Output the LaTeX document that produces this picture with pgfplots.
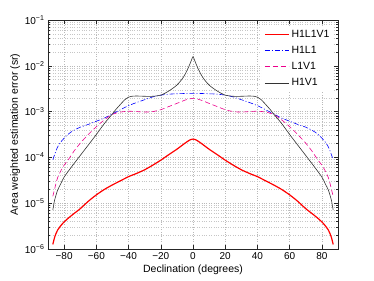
\documentclass[border=0pt]{standalone}
\usepackage{pgfplots}
\pgfplotsset{compat=1.18}
\usepackage{fontspec}
\setmainfont{Liberation Sans}
\begin{document}
\fontsize{10}{12}\selectfont
\begin{tikzpicture}
\begin{axis}[
  scale only axis, width=290pt, height=229pt,
  xmin=-90, xmax=90, ymode=log, ymin=1e-6, ymax=1e-1,
  xtick={-80,-60,-40,-20,0,20,40,60,80},
  xticklabels={−80,−60,−40,−20,0,20,40,60,80},
  ytick={1e-6,1e-5,1e-4,1e-3,1e-2,1e-1},
  yticklabels={10\textsuperscript{−6},10\textsuperscript{−5},10\textsuperscript{−4},10\textsuperscript{−3},10\textsuperscript{−2},10\textsuperscript{−1}},
  tick align=inside, xtick pos=both, ytick pos=both,
  major tick length=4pt, minor tick length=2pt,
  grid=both,
  major grid style={dash pattern=on 0.6pt off 1.8pt, gray!55, line width=0.4pt},
  minor grid style={dash pattern=on 0.6pt off 1.8pt, gray!45, line width=0.4pt},
  axis line style={line width=0.6pt, black!85},
  tick style={black!85, line width=0.5pt},
  ticklabel style={font=\fontsize{10}{12}\selectfont},
  label style={font=\fontsize{10.5}{12}\selectfont},
  xlabel={Declination (degrees)},
  ylabel={Area weighted estimation error (sr)},
  xlabel style={yshift=2pt},
  ylabel style={yshift=-2pt},
  legend style={at={(0.985,0.975)}, anchor=north east, draw=none, fill=white,
    font=\fontsize{10.5}{12}\selectfont, row sep=3.5pt, inner sep=2pt},
  legend cell align=left,
  legend image code/.code={\draw[#1] (0pt,0pt) -- (24pt,0pt);},
]
\addplot[color=red, draw=red, line width=1.2pt, smooth, tension=0.4] coordinates {
(-87,1.26e-6) (-86,1.74e-6) (-85,2.19e-6) (-84,2.60e-6) (-82,3.25e-6) (-80,3.90e-6)
(-77,4.85e-6) (-74,5.89e-6) (-70,7.59e-6) (-65,1.10e-5) (-60,1.52e-5) (-55,2.0e-5)
(-50,2.51e-5) (-45,3.09e-5) (-40,3.80e-5) (-35,4.47e-5) (-30,5.37e-5) (-25,6.76e-5)
(-20,8.71e-5) (-15,1.15e-4) (-10,1.51e-4) (-5,2.04e-4) (-2,2.40e-4) (0,2.51e-4)
(2,2.40e-4) (5,2.04e-4) (10,1.51e-4) (15,1.15e-4) (20,8.71e-5) (25,6.76e-5)
(30,5.37e-5) (35,4.47e-5) (40,3.80e-5) (45,3.09e-5) (50,2.51e-5) (55,2.0e-5)
(60,1.52e-5) (65,1.10e-5) (70,7.59e-6) (74,5.89e-6) (77,4.85e-6) (80,3.90e-6)
(82,3.25e-6) (84,2.60e-6) (85,2.19e-6) (86,1.74e-6) (87,1.26e-6)
};
\addlegendentry{H1L1V1}
\addplot[color=blue, draw=blue, line width=0.6pt, dash pattern=on 5pt off 2pt on 1pt off 2pt, smooth] coordinates {
(-87,8.91e-5) (-86,1.12e-4) (-85,1.41e-4) (-84,1.70e-4) (-82,2.19e-4) (-80,2.63e-4)
(-77,3.31e-4) (-74,3.89e-4) (-70,4.57e-4) (-65,5.25e-4) (-60,6.17e-4) (-55,7.24e-4)
(-50,8.91e-4) (-45,1.10e-3) (-40,1.35e-3) (-35,1.58e-3) (-30,1.82e-3) (-25,2.09e-3)
(-20,2.29e-3) (-15,2.40e-3) (-10,2.45e-3) (0,2.51e-3)
(10,2.45e-3) (15,2.40e-3) (20,2.29e-3) (25,2.09e-3) (30,1.82e-3) (35,1.58e-3)
(40,1.35e-3) (45,1.10e-3) (50,8.91e-4) (55,7.24e-4) (60,6.17e-4) (65,5.25e-4)
(70,4.57e-4) (74,3.89e-4) (77,3.31e-4) (80,2.63e-4) (82,2.19e-4) (84,1.70e-4)
(85,1.41e-4) (86,1.12e-4) (87,8.91e-5)
};
\addlegendentry{H1L1}
\addplot[color=magenta, draw=magenta, line width=0.6pt, dash pattern=on 5pt off 3pt, smooth] coordinates {
(-87,1.41e-5) (-86,1.95e-5) (-85,2.75e-5) (-84,3.63e-5) (-82,5.13e-5) (-80,6.76e-5)
(-77,9.33e-5) (-74,1.35e-4) (-70,2.04e-4) (-65,3.16e-4) (-60,4.68e-4) (-55,6.61e-4)
(-50,8.71e-4) (-45,9.77e-4) (-40,1.02e-3) (-35,1.00e-3) (-30,9.77e-4) (-25,1.00e-3)
(-20,1.10e-3) (-15,1.29e-3) (-10,1.51e-3) (-5,1.78e-3) (0,1.95e-3)
(5,1.78e-3) (10,1.51e-3) (15,1.29e-3) (20,1.10e-3) (25,1.00e-3) (30,9.77e-4)
(35,1.00e-3) (40,1.02e-3) (45,9.77e-4) (50,8.71e-4) (55,6.61e-4) (60,4.68e-4)
(65,3.16e-4) (70,2.04e-4) (74,1.35e-4) (77,9.33e-5) (80,6.76e-5) (82,5.13e-5)
(84,3.63e-5) (85,2.75e-5) (86,1.95e-5) (87,1.41e-5)
};
\addlegendentry{L1V1}
\addplot[color=black!80, draw=black!80, line width=0.6pt, smooth] coordinates {
(-87,7.08e-6) (-86,1.12e-5) (-85,1.51e-5) (-84,1.95e-5) (-82,2.69e-5) (-80,3.72e-5)
(-75,6.46e-5) (-70,1.10e-4) (-65,1.86e-4) (-60,3.16e-4) (-55,5.50e-4) (-50,8.91e-4)
(-48,1.10e-3) (-46,1.32e-3) (-44,1.58e-3) (-42,1.86e-3) (-40,2.07e-3) (-38,2.16e-3)
(-35,2.19e-3) (-30,2.16e-3) (-25,2.16e-3) (-20,2.29e-3) (-15,2.82e-3) (-10,3.80e-3)
(-6,5.62e-3) (-3,8.91e-3) (-1,1.32e-2) (0,1.58e-2) (1,1.32e-2) (3,8.91e-3)
(6,5.62e-3) (10,3.80e-3) (15,2.82e-3) (20,2.29e-3) (25,2.16e-3) (30,2.16e-3)
(35,2.19e-3) (38,2.16e-3) (40,2.07e-3) (42,1.86e-3) (44,1.58e-3) (46,1.32e-3)
(48,1.10e-3) (50,8.91e-4) (55,5.50e-4) (60,3.16e-4) (65,1.86e-4) (70,1.10e-4)
(75,6.46e-5) (80,3.72e-5) (82,2.69e-5) (84,1.95e-5) (85,1.51e-5) (86,1.12e-5)
(87,7.08e-6)
};
\addlegendentry{H1V1}
\end{axis}
\pgfresetboundingbox
\path ([shift={(-48pt,-32pt)}]current axis.south west) rectangle ([shift={(36pt,20pt)}]current axis.north east);
\end{tikzpicture}
\end{document}
